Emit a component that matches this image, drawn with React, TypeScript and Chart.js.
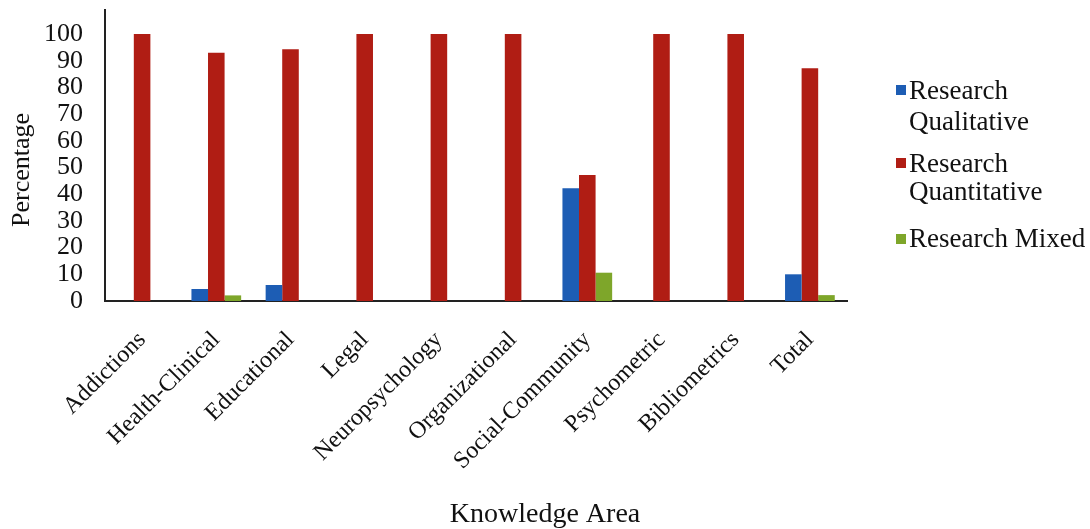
import React, { useEffect, useRef } from "react";
import { Chart, registerables } from "chart.js";

Chart.register(...registerables);

const categories = [
  "Addictions",
  "Health-Clinical",
  "Educational",
  "Legal",
  "Neuropsychology",
  "Organizational",
  "Social-Community",
  "Psychometric",
  "Bibliometrics",
  "Total",
];
const qualitative = [0, 4.5, 6.0, 0, 0, 0, 42.2, 0, 0, 10.0];
const quantitative = [100, 93.0, 94.3, 100, 100, 100, 47.2, 100, 100, 87.2];
const mixed = [0, 2.1, 0, 0, 0, 0, 10.6, 0, 0, 2.2];
const seriesLabels = ["Research Qualitative", "Research Quantitative", "Research Mixed"];
const legendLines = [["Research", "Qualitative"], ["Research", "Quantitative"], ["Research Mixed"]];
const yTicks = [0, 10, 20, 30, 40, 50, 60, 70, 80, 90, 100];
const xTitle = "Knowledge Area";
const yTitle = "Percentage";

const colors = ["#1d5db4", "#b01d14", "#7ea62a"];
const FONT = '"Liberation Serif", "Times New Roman", serif';

const legendPlugin = {
  id: "sideLegend",
  afterDraw(chart: any) {
    const ctx = chart.ctx;
    ctx.save();
    ctx.font = `27px ${FONT}`;
    ctx.textAlign = "left";
    ctx.textBaseline = "alphabetic";
    const blocks = [
      { sq: 85, base: [99, 130] },
      { sq: 158, base: [172, 200] },
      { sq: 234, base: [247] },
    ];
    blocks.forEach((b, i) => {
      ctx.fillStyle = chart.data.datasets[i].backgroundColor;
      ctx.fillRect(896, b.sq, 10, 10);
      ctx.fillStyle = "#111";
      legendLines[i].forEach((line, j) => {
        ctx.fillText(line, 909, b.base[j]);
      });
    });
    // y-axis title
    ctx.translate(22, 170);
    ctx.rotate(-Math.PI / 2);
    ctx.font = `26px ${FONT}`;
    ctx.textAlign = "center";
    ctx.textBaseline = "middle";
    ctx.fillStyle = "#111";
    ctx.fillText(yTitle, 0, 0);
    ctx.restore();
  },
};

export default function App() {
  const ref = useRef<HTMLCanvasElement>(null);
  useEffect(() => {
    if (!ref.current) return;
    const chart = new Chart(ref.current, {
      type: "bar",
      data: {
        labels: categories,
        datasets: [qualitative, quantitative, mixed].map((d, i) => ({
          label: seriesLabels[i],
          data: d,
          backgroundColor: colors[i],
          borderWidth: 0,
          barPercentage: 1,
          categoryPercentage: 0.67,
        })),
      },
      options: {
        responsive: false,
        animation: false,
        devicePixelRatio: 1,
        layout: { padding: { top: 10, right: 0, left: 0, bottom: 0 } },
        plugins: {
          legend: { display: false },
          tooltip: { enabled: false },
          title: {
            display: true,
            position: "bottom",
            fullSize: true,
            text: xTitle,
            color: "#111",
            font: { family: FONT, size: 28, weight: "normal", lineHeight: 1.0 },
            padding: { top: 0, bottom: 0 },
          },
        },
        scales: {
          x: {
            grid: { display: false, drawTicks: false },
            border: { display: true, color: "#222", width: 2 },
            ticks: {
              color: "#111",
              font: { family: FONT, size: 24 },
              minRotation: 45,
              maxRotation: 45,
              padding: 25,
              autoSkip: false,
            },
            afterFit(scale: any) {
              scale.height = 200;
            },
          },
          y: {
            min: 0,
            max: 109,
            grid: { display: false, drawTicks: false },
            border: { display: true, color: "#222", width: 2 },
            afterBuildTicks(scale: any) {
              scale.ticks = yTicks.map((v) => ({ value: v }));
            },
            ticks: {
              color: "#111",
              font: { family: FONT, size: 26 },
              padding: 22,
              autoSkip: false,
            },
            afterFit(scale: any) {
              scale.width = 105;
              scale.paddingTop = 0;
              scale.paddingBottom = 0;
            },
          },
          legendSpace: {
            type: "linear",
            position: "right",
            display: true,
            grid: { display: false, drawTicks: false },
            border: { display: false },
            ticks: { display: false },
            afterFit(scale: any) {
              scale.width = 243;
              scale.paddingTop = 0;
              scale.paddingBottom = 0;
            },
          },
        },
      },
      plugins: [legendPlugin],
    });
    return () => chart.destroy();
  }, []);
  return (
    <div style={{ position: "absolute", left: 0, top: 0, width: 1090, height: 529, background: "#fff" }}>
      <canvas ref={ref} width={1090} height={529} />
    </div>
  );
}
